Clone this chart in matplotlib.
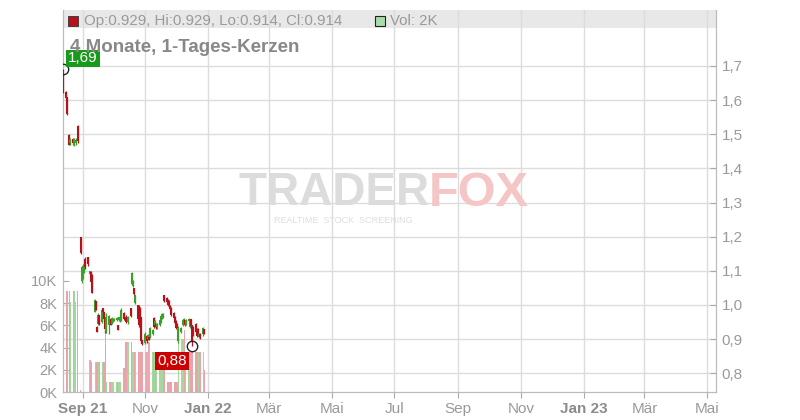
import numpy as np
import pandas as pd
import matplotlib
matplotlib.use("Agg")
import matplotlib.pyplot as plt
from matplotlib.patches import Rectangle
from matplotlib.transforms import blended_transform_factory

plt.rcParams['font.family'] = ['Liberation Sans', 'DejaVu Sans']

nan = np.nan

# Tageskerzen, ein Eintrag je Börsentag ab 13.08.2021 (nan = kein Handel)
opens = [
    1.675, 1.625, 1.61, nan, 1.498, 1.475, 1.485, 1.47, 1.475, nan, 1.525, 1.20, 1.07,
    1.09, 1.10, 1.135, 1.14, nan, 1.09, 1.096, 1.087, 0.98, 1.011, 0.935, 0.945, 0.97, 0.95, 0.99, 0.978, 0.962, 0.92, 0.94, 0.958, 0.945, 0.952,
    0.955, 0.955, 0.94, 0.955, 0.955, 0.955, 0.975, 0.96, 0.965, 0.962, 0.95, 0.99, 1.06, 1.055, 1.05, 1.005, 1.0, 0.99, 0.99, 0.964, 0.897,
    0.89, 0.91, 0.90, 0.906, 0.905, 0.915, 0.962, 0.94, 0.945, 0.935, 0.94, 0.95, 0.962, 0.964, 1.028, 1.02, 1.015, 1.012, 0.998, 0.99, 0.975, 0.965,
    0.952, 0.945, 0.895, 0.92, 0.94, 0.955, 0.955, 0.942, 0.952, 0.935, 0.958, 0.94, 0.935, 0.945, 0.93, 0.93, 0.905, 0.915, 0.914, 0.929,
]
highs = [
    1.69, 1.628, 1.61, nan, 1.50, 1.49, 1.488, 1.49, 1.49, nan, 1.527, 1.20, 1.115,
    1.12, 1.12, 1.14, 1.14, nan, 1.10, 1.098, 1.09, 1.017, 1.012, 0.937, 0.975, 0.972, 0.99, 0.99, 0.98, 0.965, 0.975, 0.972, 0.96, 0.965, 0.962,
    0.962, 0.964, 0.942, 0.966, 0.968, 0.99, 0.978, 0.962, 0.97, 0.965, 0.968, 0.99, 1.096, 1.073, 1.05, 1.03, 1.0, 1.0, 0.993, 0.964, 0.898,
    0.92, 0.912, 0.915, 0.908, 0.935, 0.93, 0.964, 0.955, 0.948, 0.948, 0.96, 0.97, 0.976, 0.976, 1.03, 1.022, 1.018, 1.015, 1.0, 0.993, 0.978, 0.968,
    0.955, 0.948, 0.937, 0.935, 0.96, 0.962, 0.957, 0.958, 0.962, 0.96, 0.96, 0.942, 0.937, 0.947, 0.932, 0.932, 0.918, 0.918, 0.935, 0.929,
]
lows = [
    1.62, 1.60, 1.555, nan, 1.468, 1.468, 1.47, 1.465, 1.47, nan, 1.475, 1.15, 1.065,
    1.075, 1.095, 1.105, 1.115, nan, 1.088, 1.066, 1.034, 0.978, 0.984, 0.92, 0.94, 0.94, 0.948, 0.975, 0.955, 0.917, 0.917, 0.915, 0.94, 0.943, 0.95,
    0.952, 0.952, 0.926, 0.953, 0.95, 0.952, 0.955, 0.955, 0.948, 0.955, 0.945, 0.965, 1.058, 1.052, 1.03, 1.003, 0.955, 0.935, 0.94, 0.89, 0.884,
    0.886, 0.89, 0.898, 0.896, 0.903, 0.912, 0.932, 0.935, 0.93, 0.93, 0.938, 0.948, 0.96, 0.962, 1.01, 1.005, 0.998, 0.998, 0.985, 0.967, 0.96, 0.944,
    0.93, 0.932, 0.89, 0.918, 0.938, 0.95, 0.938, 0.94, 0.95, 0.932, 0.935, 0.88, 0.91, 0.917, 0.905, 0.915, 0.903, 0.90, 0.91, 0.914,
]
closes = [
    1.625, 1.605, 1.56, nan, 1.47, 1.485, 1.475, 1.485, 1.482, nan, 1.48, 1.152, 1.11,
    1.115, 1.118, 1.11, 1.12, nan, 1.098, 1.068, 1.036, 1.015, 0.986, 0.922, 0.972, 0.945, 0.985, 0.978, 0.958, 0.93, 0.965, 0.968, 0.942, 0.962, 0.96,
    0.96, 0.962, 0.928, 0.964, 0.962, 0.985, 0.958, 0.956, 0.95, 0.957, 0.965, 0.968, 1.094, 1.07, 1.032, 1.028, 0.96, 0.94, 0.945, 0.895, 0.886,
    0.915, 0.893, 0.912, 0.898, 0.932, 0.928, 0.935, 0.952, 0.935, 0.945, 0.957, 0.967, 0.973, 0.974, 1.012, 1.008, 1.0, 1.0, 0.988, 0.97, 0.962, 0.948,
    0.933, 0.935, 0.93, 0.932, 0.957, 0.96, 0.942, 0.955, 0.96, 0.955, 0.938, 0.892, 0.912, 0.92, 0.91, 0.918, 0.915, 0.905, 0.932, 0.914,
]
# Volumen in Tausend Stück
volumes = [
    9.1, 9.1, 9.1, 0, 9.1, 8.1, 9.1, 9.1, 8.1, 0, 9.1, 0.15, 0,
    0, 0, 0, 0, 0, 2.9, 2.9, 2.7, 2.7, 2.7, 2.7, 2.7, 2.7, 2.7, 2.7, 2.7, 5.9, 0.9, 0.9, 0.9, 0.9, 0.9,
    0.9, 0.9, 0.9, 0.9, 0.9, 0.9, 2.2, 2.2, 4.5, 4.5, 4.5, 4.5, 3.6, 3.6, 3.6, 3.6, 3.6, 3.6, 3.6, 3.6, 3.6,
    3.6, 3.6, 3.6, 4.5, 4.5, 3.6, 3.6, 3.6, 3.6, 3.6, 3.6, 3.6, 3.6, 3.6, 3.6, 0.9, 0.9, 0.9, 0.9, 0.9, 0.9, 0.9,
    0.9, 0.9, 4.8, 4.8, 4.8, 4.8, 5.6, 3.6, 3.6, 3.6, 3.6, 3.6, 3.6, 3.6, 3.6, 3.6, 3.6, 3.6, 3.6, 2.0,
]

price_ticks = [0.8, 0.9, 1.0, 1.1, 1.2, 1.3, 1.4, 1.5, 1.6, 1.7]
vol_ticks = [0, 2, 4, 6, 8, 10]
month_ticks = ['2021-09-01', '2021-11-01', '2022-01-01', '2022-03-01', '2022-05-01', '2022-07-01',
               '2022-09-01', '2022-11-01', '2023-01-01', '2023-03-01', '2023-05-01']
month_labels = ['Sep 21', 'Nov', 'Jan 22', 'Mär', 'Mai', 'Jul', 'Sep', 'Nov', 'Jan 23', 'Mär', 'Mai']

RED = '#b5121b'
GREEN = '#3d9e2a'
GRID = '#dcdcdc'
TXT = '#9a9a9a'

o = np.array(opens); h = np.array(highs); l = np.array(lows); c = np.array(closes)
v = np.array(volumes)
dates = pd.bdate_range('2021-08-13', periods=len(c))
ok = ~np.isnan(c)
up = c >= o

fig = plt.figure(figsize=(8, 4.2), dpi=100)
ax = fig.add_axes([63 / 800, 28 / 420, 653 / 800, 382 / 420])
ax2 = ax.twinx()

ax.set_xlim(pd.Timestamp('2021-08-12 20:00'), pd.Timestamp('2023-05-09 12:00'))
ax.set_ylim(0, 34.4)
ax2.set_ylim(0.745, 1.864)

# Kopfzeile
ax.add_patch(Rectangle((0, 0.953), 1, 0.047, transform=ax.transAxes,
                       fc='#e8e8e8', ec='none', zorder=0.3))

# Gitter
ax.set_axisbelow(True)
ax.set_xticks(pd.to_datetime(month_ticks), labels=month_labels)
ax.grid(axis='x', color=GRID, lw=1)
trans = blended_transform_factory(ax.transAxes, ax2.transData)
ax.hlines(price_ticks, 0, 1, transform=trans, colors=GRID, lw=1, zorder=0.5)

# Volumen
vcol = np.where(up, '#a6d79c', '#eaa2ab')
ax.bar(dates[ok], v[ok], width=1.0, color=vcol[ok], lw=0, zorder=2)

# Kerzen
ccol = np.where(up, GREEN, RED)
ax2.vlines(dates[ok], l[ok], h[ok], colors=ccol[ok], lw=0.9, zorder=3)
ax2.vlines(dates[ok], np.minimum(o, c)[ok], np.maximum(o, c)[ok], colors=ccol[ok], lw=1.5, zorder=3)

# Hoch / Tief
ih = np.nanargmax(h)
il = np.nanargmin(l)
ax2.plot(dates[ih], h[ih], 'o', mfc='none', mec='#222222', ms=7.5, mew=1, zorder=5)
ax2.plot(dates[il], l[il], 'o', mfc='none', mec='#222222', ms=7.5, mew=1, zorder=5)
ax2.annotate(f'{h[ih]:.2f}'.replace('.', ','), (dates[ih], h[ih]), xytext=(5, 4),
             textcoords='offset pixels', ha='left', va='bottom', color='white', fontsize=11,
             bbox=dict(boxstyle='square,pad=0.12', fc='#1a9a1a', ec='none'), zorder=6)
ax2.annotate(f'{l[il]:.2f}'.replace('.', ','), (dates[il], l[il]), xytext=(-5, -8),
             textcoords='offset pixels', ha='right', va='top', color='white', fontsize=11,
             bbox=dict(boxstyle='square,pad=0.12', fc='#cc0000', ec='none'), zorder=6)

# Wasserzeichen
ax2.text(0.562, 0.52, 'TRADER', transform=ax2.transAxes, ha='right', va='center',
         fontsize=33, fontweight='bold', color='#dcdcdc', zorder=0)
ax2.text(0.560, 0.52, 'FOX', transform=ax2.transAxes, ha='left', va='center',
         fontsize=35, fontweight='bold', color='#f4c6c6', zorder=0)
ax2.text(0.43, 0.448, 'REALTIME  STOCK  SCREENING', transform=ax2.transAxes, ha='center',
         va='center', fontsize=6.5, color='#dedede', zorder=0)

# Achsen
for a in (ax, ax2):
    a.spines['top'].set_visible(False)
    for s in ('left', 'right', 'bottom'):
        a.spines[s].set_color('#bbbbbb')
ax.set_yticks(vol_ticks, labels=[f'{t}K' for t in vol_ticks])
ax.tick_params(axis='y', direction='in', length=4, color='#aaaaaa', labelcolor=TXT,
               labelsize=10.5, pad=4)
ax.tick_params(axis='x', direction='out', length=4, color='#aaaaaa', labelcolor=TXT,
               labelsize=11, pad=3)
for t in ax.get_xticklabels():
    if ' ' in t.get_text():
        t.set_fontweight('bold')
        t.set_color('#8c8c8c')
ax2.set_yticks(price_ticks, labels=[f'{t:.1f}'.replace('.', ',') for t in price_ticks])
ax2.tick_params(axis='y', direction='in', length=4, color='#aaaaaa', labelcolor=TXT,
                labelsize=11, pad=4)

# Titel und Legende
fig.text(70 / 800, 1 - 47 / 420, '4 Monate, 1-Tages-Kerzen', fontsize=13.5,
         fontweight='bold', color='#888888', va='center')
fig.patches.append(Rectangle((68 / 800, 1 - 26 / 420), 9.5 / 800, 9.5 / 420,
                             transform=fig.transFigure, fc=RED, ec='#333333', lw=0.6))
fig.text(84 / 800, 1 - 21 / 420,
         f'Op:{o[-1]:.3f}, Hi:{h[-1]:.3f}, Lo:{l[-1]:.3f}, Cl:{c[-1]:.3f}',
         fontsize=10.8, color=TXT, va='center')
fig.patches.append(Rectangle((375 / 800, 1 - 26 / 420), 9.5 / 800, 9.5 / 420,
                             transform=fig.transFigure, fc='#a8dca8', ec='#222222', lw=0.8))
fig.text(390 / 800, 1 - 21 / 420, f'Vol: {v[-1]:.0f}K', fontsize=10.8, color=TXT, va='center')

fig.savefig('out.png', dpi=100)
